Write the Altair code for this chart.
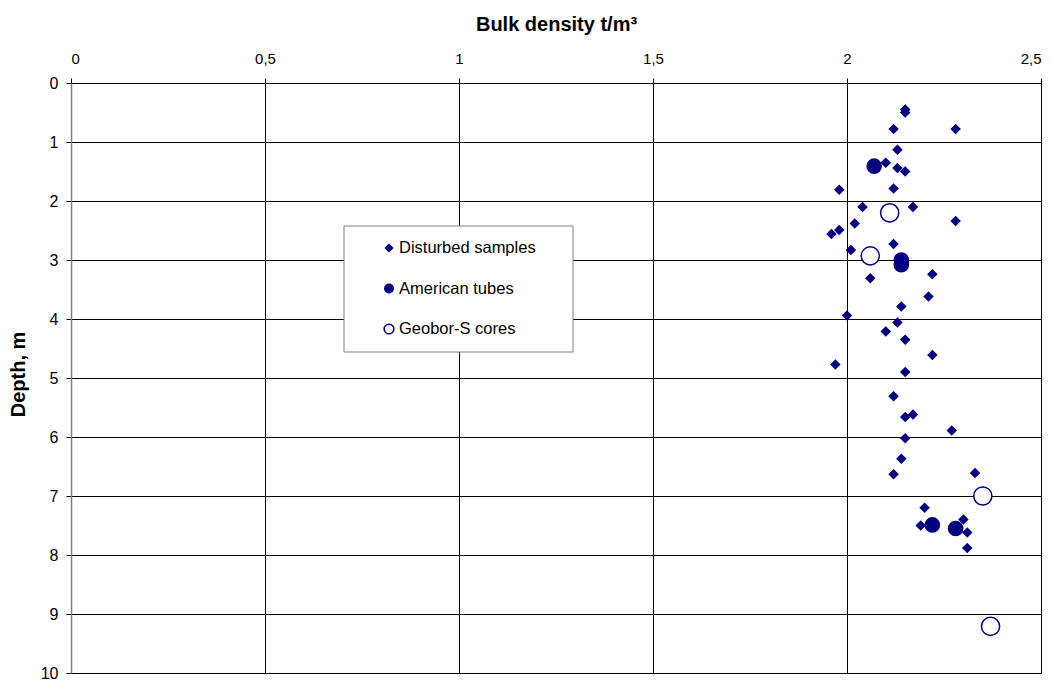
import altair as alt
import pandas as pd

# Disturbed samples
dist_density = [2.15, 2.15, 2.12, 2.28, 2.13, 2.10, 2.13, 2.15, 1.98, 2.12, 2.04, 2.17, 2.28, 2.02,
                1.98, 1.96, 2.12, 2.01, 2.22, 2.06, 2.21, 2.14, 2.00, 2.13, 2.10, 2.15, 2.22, 1.97,
                2.15, 2.12, 2.17, 2.15, 2.27, 2.15, 2.14, 2.12, 2.33, 2.20, 2.19, 2.30, 2.31, 2.31]
dist_depth = [0.45, 0.50, 0.78, 0.78, 1.13, 1.35, 1.44, 1.50, 1.81, 1.79, 2.10, 2.10, 2.34, 2.38,
              2.49, 2.56, 2.73, 2.83, 3.24, 3.31, 3.62, 3.79, 3.94, 4.06, 4.21, 4.35, 4.61, 4.77,
              4.90, 5.31, 5.62, 5.66, 5.89, 6.02, 6.37, 6.63, 6.61, 7.20, 7.50, 7.40, 7.62, 7.88]
# American tubes
am_density = [2.07, 2.14, 2.14, 2.22, 2.28]
am_depth = [1.41, 3.00, 3.08, 7.49, 7.55]
# Geobor-S cores
geo_density = [2.11, 2.06, 2.35, 2.37]
geo_depth = [2.20, 2.93, 7.00, 9.21]

series = ["Disturbed samples", "American tubes", "Geobor-S cores"]
x_ticks = [0, 0.5, 1, 1.5, 2, 2.5]
y_ticks = list(range(0, 11))

rows = []
for name, xs, ys in [(series[0], dist_density, dist_depth),
                     (series[1], am_density, am_depth),
                     (series[2], geo_density, geo_depth)]:
    for a, b in zip(xs, ys):
        rows.append({"density": a, "depth": b, "type": name})
df = pd.DataFrame(rows)
df["order"] = df["type"].map({s: i for i, s in enumerate(series)})
leg = pd.DataFrame({"type": series})

NAVY = "#000080"
FONT = "Liberation Sans"

shape_scale = alt.Scale(domain=series, range=["diamond", "circle", "circle"])
fill_scale = alt.Scale(domain=series, range=[NAVY, NAVY, "white"])

points = alt.Chart(df).mark_point(filled=True, strokeWidth=1.5, stroke=NAVY, opacity=1).encode(
    x=alt.X("density:Q",
            scale=alt.Scale(domain=[0, 2.5], nice=False, zero=False),
            axis=alt.Axis(orient="top", values=x_ticks, title="Bulk density t/m³",
                          labelExpr="replace(toString(datum.value), '.', ',')",
                          titleY=-59, titleBaseline="middle",
                          labelFontSize=15, titleFontSize=20,
                          labelPadding=12, tickSize=5, gridColor="#000000",
                          domainColor="#000000")),
    y=alt.Y("depth:Q",
            scale=alt.Scale(domain=[0, 10], reverse=True, nice=False, zero=False),
            axis=alt.Axis(values=y_ticks, title="Depth, m", titleAngle=270,
                          titleX=-53, titleY=291, titleAlign="center", titleBaseline="middle",
                          labelFontSize=16, titleFontSize=20,
                          labelPadding=8, tickSize=5, gridColor="#000000",
                          domainColor="#808080", domainWidth=1.5)),
    shape=alt.Shape("type:N", scale=shape_scale, legend=None),
    fill=alt.Fill("type:N", scale=fill_scale, legend=None),
    size=alt.Size("type:N", scale=alt.Scale(domain=series, range=[70, 330, 310]), legend=None),
    order=alt.Order("order:Q"),
)

# legend box
box = alt.Chart(pd.DataFrame({"a": [0]})).mark_rect(
    fill="white", stroke="#808080", strokeWidth=1
).encode(
    x=alt.value(273), x2=alt.value(502), y=alt.value(143), y2=alt.value(269)
)

leg_y = alt.Y("type:N", scale=alt.Scale(domain=series, range=[165, 246], padding=0), axis=None)

leg_sym = alt.Chart(leg).mark_point(filled=True, strokeWidth=1.5, stroke=NAVY, opacity=1).encode(
    x=alt.value(318),
    y=leg_y,
    shape=alt.Shape("type:N", scale=shape_scale, legend=None),
    fill=alt.Fill("type:N", scale=fill_scale, legend=None),
    size=alt.Size("type:N", scale=alt.Scale(domain=series, range=[50, 95, 70]), legend=None),
)

leg_txt = alt.Chart(leg).mark_text(
    align="left", baseline="middle", font=FONT, fontSize=16.5, color="#000000"
).encode(
    x=alt.value(328),
    y=leg_y,
    text="type:N",
)

chart = alt.layer(points, box, leg_sym, leg_txt).resolve_scale(
    y="independent", size="independent"
).properties(
    width=970, height=590,
    autosize=alt.AutoSizeParams(type="none"),
    padding={"left": 71, "top": 83, "right": 12, "bottom": 7},
    background="white",
).configure_view(
    stroke="#808080", strokeWidth=1
).configure_axis(
    labelFont=FONT, titleFont=FONT,
    titleFontWeight="bold", labelColor="#000000", titleColor="#000000",
    tickColor="#000000", gridOpacity=1, gridWidth=1,
)

chart.save("out.html", embed_options={"renderer": "svg", "actions": False})
